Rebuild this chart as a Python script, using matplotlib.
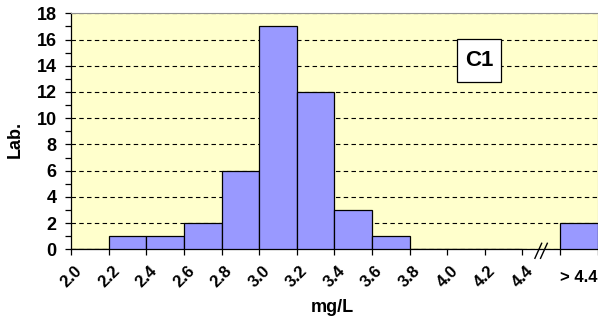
import matplotlib
matplotlib.use("Agg")
import matplotlib.pyplot as plt
import matplotlib.transforms as mtransforms
from matplotlib.lines import Line2D
from matplotlib.patches import Rectangle
import numpy as np

# Class edges (mg/L) and number of laboratories per class
edge_labels = ["2.0", "2.2", "2.4", "2.6", "2.8", "3.0", "3.2",
               "3.4", "3.6", "3.8", "4.0", "4.2", "4.4"]
counts = [0, 1, 1, 2, 6, 17, 12, 3, 1, 0, 0, 0]
overflow_label = "> 4.4"
overflow_count = 2
panel_label = "C1"

plt.rcParams["font.family"] = ["Liberation Sans", "DejaVu Sans"]
plt.rcParams["font.weight"] = "bold"

fig = plt.figure(figsize=(5.98, 3.23), dpi=100)
ax = fig.add_axes([0.1192, 0.2282, 0.8803, 0.7306])
ax.set_facecolor("#FFFFCC")

bar_color = "#9999FF"
n = len(counts)
ax.bar(np.arange(n), counts, width=1.0, align="edge",
       color=bar_color, edgecolor="black", linewidth=0.9, zorder=3)
# overflow class drawn after the axis break
ax.bar([n + 1], [overflow_count], width=1.0, align="edge",
       color=bar_color, edgecolor="black", linewidth=0.9, zorder=3)

ax.set_xlim(0, n + 2)
ax.set_ylim(0, 18)

# y axis
ax.set_yticks(np.arange(0, 19, 2))
ax.set_yticklabels([str(v) for v in range(0, 19, 2)],
                   fontsize=13, fontweight="bold")
ax.set_yticks(np.arange(1, 19, 2), minor=True)
ax.tick_params(axis="y", which="both", direction="out", length=4.5,
               width=0.9, pad=6)
ax.yaxis.grid(True, which="major", color="black", linestyle=(0, (4, 3)),
              linewidth=0.8, zorder=1)
ax.set_axisbelow(True)

# x axis
ax.set_xticks(range(0, n + 3))
ax.set_xticklabels(edge_labels + ["", ""], rotation=45, ha="center",
                   va="top", fontsize=12, fontweight="bold")
ax.tick_params(axis="x", which="both", direction="out", length=4,
               width=0.9, pad=6)

trans = mtransforms.blended_transform_factory(ax.transData, ax.transAxes)
ax.text(n + 1.5, -0.12, overflow_label, transform=trans, ha="center",
        va="center", fontsize=12, fontweight="bold")

# axis break marks between the last class and the overflow class
pt = 1 / 236.0
for dx in (0.0, 0.15):
    ax.add_line(Line2D([n + 0.33 + dx, n + 0.51 + dx],
                       [-9 * pt, 6 * pt], transform=trans,
                       color="black", linewidth=1.0, clip_on=False,
                       zorder=5))

for side in ("left", "bottom"):
    ax.spines[side].set_color("black")
    ax.spines[side].set_linewidth(0.9)
for side in ("top", "right"):
    ax.spines[side].set_color("#909090")
    ax.spines[side].set_linewidth(0.8)

fig.text(0.026, 0.5685, "Lab.", rotation=90, ha="center", va="center",
         fontsize=13, fontweight="bold")
fig.text(0.5557, 0.0495, "mg/L", ha="center", va="center",
         fontsize=13, fontweight="bold")

# panel label in a white box
ax.add_patch(Rectangle((0.7333, 0.710), 0.0824, 0.181,
                       transform=ax.transAxes, facecolor="white",
                       edgecolor="black", linewidth=0.9, zorder=6))
ax.text(0.7745, 0.8005, panel_label, transform=ax.transAxes,
        ha="center", va="center", fontsize=16, fontweight="bold",
        zorder=7)

fig.savefig("out.png", dpi=100)
